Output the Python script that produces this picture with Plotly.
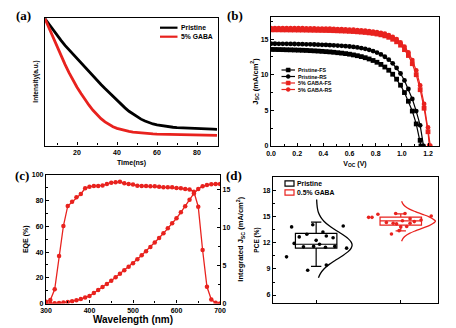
import plotly.graph_objects as go

W, H = 456, 328
BLACK = "#000000"
RED = "#e8221e"
SANS = "Liberation Sans, Arial, sans-serif"
SERIF = "Liberation Serif, Times New Roman, serif"

# ---------------- (a) TRPL decay ----------------
time_ns = [4, 6, 8, 10, 12, 14, 16, 18, 20, 22, 24, 26, 28, 30, 32, 34, 36, 38, 40, 42, 44, 46,
           48, 50, 52, 54, 56, 58, 60, 62, 64, 66, 68, 70, 72, 74, 76, 78, 80, 82, 84, 86, 88, 90]
trpl_pristine = [1.000, 0.955, 0.910, 0.870, 0.830, 0.790, 0.755, 0.720, 0.685, 0.650, 0.615,
                 0.580, 0.548, 0.515, 0.482, 0.450, 0.418, 0.385, 0.355, 0.325, 0.297, 0.270,
                 0.247, 0.226, 0.208, 0.193, 0.180, 0.170, 0.162, 0.156, 0.151, 0.147, 0.144,
                 0.141, 0.139, 0.137, 0.135, 0.134, 0.133, 0.132, 0.131, 0.130, 0.129, 0.128]
trpl_gaba = [1.000, 0.925, 0.850, 0.775, 0.705, 0.640, 0.575, 0.515, 0.460, 0.410, 0.362,
             0.318, 0.278, 0.243, 0.212, 0.186, 0.165, 0.148, 0.135, 0.125, 0.117, 0.111,
             0.106, 0.102, 0.099, 0.096, 0.094, 0.092, 0.090, 0.089, 0.088, 0.087, 0.086,
             0.085, 0.084, 0.083, 0.083, 0.082, 0.082, 0.081, 0.081, 0.080, 0.080, 0.080]
trpl_names = ["Pristine", "5% GABA"]

# ---------------- (b) J-V curves ----------------
voltage_grid = [0.00, 0.03, 0.06, 0.09, 0.12, 0.15, 0.18, 0.21, 0.24, 0.27, 0.30, 0.33, 0.36, 0.39,
                0.42, 0.45, 0.48, 0.51, 0.54, 0.57, 0.60, 0.63, 0.66, 0.69, 0.72, 0.75, 0.78, 0.81,
                0.84, 0.87, 0.90, 0.93, 0.96, 0.99, 1.02, 1.05, 1.08, 1.11, 1.14, 1.17, 1.20]
jv_pristine_fs = [13.55, 13.54, 13.53, 13.52, 13.50, 13.49, 13.47, 13.45, 13.43, 13.41, 13.38,
                  13.35, 13.32, 13.28, 13.24, 13.20, 13.15, 13.09, 13.03, 12.96, 12.88, 12.78,
                  12.67, 12.54, 12.39, 12.21, 12.00, 11.75, 11.45, 11.08, 10.63, 10.07, 9.38,
                  8.53, 7.50, 6.28, 4.90, 3.10, 0.80]
jv_pristine_rs = [14.35, 14.35, 14.34, 14.34, 14.33, 14.32, 14.31, 14.30, 14.29, 14.27, 14.26,
                  14.24, 14.22, 14.20, 14.18, 14.15, 14.12, 14.09, 14.05, 14.01, 13.96, 13.90,
                  13.83, 13.74, 13.63, 13.49, 13.32, 13.11, 12.85, 12.52, 12.11, 11.60, 10.96,
                  10.17, 9.20, 8.00, 6.60, 4.90, 2.90]
jv_gaba_fs = [16.30, 16.30, 16.30, 16.29, 16.29, 16.28, 16.28, 16.27, 16.27, 16.26, 16.25,
              16.24, 16.23, 16.22, 16.21, 16.20, 16.18, 16.16, 16.14, 16.12, 16.09, 16.06,
              16.02, 15.98, 15.93, 15.87, 15.80, 15.71, 15.60, 15.45, 15.25, 14.98, 14.62,
              14.15, 13.52, 12.70, 11.55, 10.00, 7.90, 5.30, 2.00]
jv_gaba_rs = [16.55, 16.55, 16.55, 16.54, 16.54, 16.53, 16.53, 16.52, 16.52, 16.51, 16.50,
              16.49, 16.48, 16.47, 16.46, 16.45, 16.43, 16.41, 16.39, 16.37, 16.34, 16.31,
              16.27, 16.23, 16.18, 16.12, 16.05, 15.97, 15.87, 15.75, 15.57, 15.32, 15.00,
              14.55, 13.95, 13.15, 12.05, 10.60, 8.50, 5.90, 2.60]
voc_values = [1.146, 1.166, 1.210, 1.218]
jv_names = ["Pristine-FS", "Pristine-RS", "5% GABA-FS", "5% GABA-RS"]

# ---------------- (c) EQE ----------------
wavelength_nm = [300, 310, 320, 330, 340, 350, 360, 370, 380, 390, 400, 410, 420, 430, 440, 450,
                 460, 470, 480, 490, 500, 510, 520, 530, 540, 550, 560, 570, 580, 590, 600, 610,
                 620, 630, 640, 650, 660, 670, 680, 690, 700]
eqe_percent = [1.3, 2.7, 11.0, 36.9, 60.3, 75.9, 79.2, 82.6, 85.2, 89.6, 90.9, 91.4, 91.4, 91.9,
               93.0, 94.0, 94.3, 94.8, 93.5, 93.0, 92.7, 91.7, 91.4, 91.4, 91.2, 91.2, 90.9, 90.4,
               90.4, 90.4, 89.9, 89.6, 89.1, 88.8, 87.0, 75.3, 41.6, 13.0, 3.1, 0.5, 0.0]
integrated_jsc = [0.00, 0.00, 0.02, 0.06, 0.12, 0.20, 0.31, 0.44, 0.59, 0.78, 1.00, 1.37, 1.76,
                  2.16, 2.57, 3.00, 3.44, 3.90, 4.36, 4.83, 5.30, 5.82, 6.35, 6.88, 7.43, 8.00,
                  8.60, 9.22, 9.87, 10.53, 11.20, 11.98, 12.78, 13.62, 14.45, 15.05, 15.40, 15.58,
                  15.66, 15.70, 15.70]

# ---------------- (d) PCE statistics ----------------
pce_groups = ["Pristine", "0.5% GABA"]
pce_group_pos = [1, 2]
pristine_pce_x = [0.65, 0.71, 0.74, 0.80, 0.85, 0.89, 0.90, 0.96, 0.97, 1.00, 1.04, 1.08, 1.12,
                  1.11, 1.12, 1.20, 1.22, 1.32, 1.36]
pristine_pce_y = [10.4, 13.85, 11.95, 12.7, 11.55, 13.0, 8.85, 14.1, 11.6, 12.3, 11.85, 13.25,
                  12.8, 11.5, 9.45, 12.6, 11.6, 13.95, 11.4]
gaba_pce_x = [1.62, 1.66, 1.73, 1.83, 1.89, 1.91, 1.95, 1.94, 1.98, 2.00, 2.05, 2.07, 2.11, 2.11,
              2.16, 2.24, 2.36, 2.02]
gaba_pce_y = [14.95, 14.95, 15.3, 14.35, 13.04, 14.27, 14.2, 15.4, 13.42, 13.85, 15.4, 13.9,
              14.27, 14.8, 14.46, 14.65, 15.1, 14.55]
box_q1 = [11.4, 14.05]
box_median = [11.85, 14.55]
box_q3 = [13.1, 14.97]
box_low = [9.3, 13.4]
box_high = [14.4, 15.35]
pristine_fit_y = [8.0, 8.5, 9.0, 9.5, 10.0, 10.5, 11.0, 11.4, 11.75, 12.1, 12.5, 13.0, 13.5, 14.0,
                  14.5, 15.0, 15.5, 16.0, 16.5, 17.0]
pristine_fit_dx = [0.027, 0.052, 0.092, 0.151, 0.227, 0.308, 0.378, 0.414, 0.425, 0.414, 0.378,
                   0.308, 0.227, 0.151, 0.092, 0.052, 0.027, 0.015, 0.009, 0.006]
gaba_fit_y = [12.2, 12.5, 12.8, 13.1, 13.4, 13.7, 14.0, 14.3, 14.5, 14.7, 15.0, 15.3, 15.6, 15.9,
              16.2, 16.5, 16.8]
gaba_fit_dx = [0.010, 0.025, 0.054, 0.103, 0.173, 0.257, 0.336, 0.389, 0.410, 0.389, 0.336, 0.257,
               0.173, 0.103, 0.054, 0.025, 0.010]


def dom_x(a, b):
    return [a / W, b / W]


def dom_y(top, bottom):
    return [1 - bottom / H, 1 - top / H]


def px(x):
    return x / W


def py(y):
    return 1 - y / H


tickfont = dict(family=SANS, size=7, color=BLACK, weight="bold")


def axis(**kw):
    base = dict(showline=True, linecolor=BLACK, linewidth=1.2, mirror=True, ticks="inside",
                ticklen=3, tickwidth=1, tickcolor=BLACK, showgrid=False, zeroline=False,
                tickfont=tickfont,
                minor=dict(ticks="inside", ticklen=2, tickwidth=1, tickcolor=BLACK))
    base.update(kw)
    return base


fig = go.Figure()

# (a)
fig.add_trace(go.Scatter(x=time_ns, y=trpl_pristine, mode="lines", name=trpl_names[0],
                         line=dict(color=BLACK, width=2.8), xaxis="x", yaxis="y"))
fig.add_trace(go.Scatter(x=time_ns, y=trpl_gaba, mode="lines", name=trpl_names[1],
                         line=dict(color=RED, width=2.8), xaxis="x", yaxis="y"))

# (b)
jv_sets = [jv_pristine_fs, jv_pristine_rs, jv_gaba_fs, jv_gaba_rs]
jv_colors = [BLACK, BLACK, RED, RED]
jv_symbols = ["square", "circle", "square", "circle"]
for j, voc, name, col, sym in zip(jv_sets, voc_values, jv_names, jv_colors, jv_symbols):
    fig.add_trace(go.Scatter(x=voltage_grid[:len(j)] + [voc], y=j + [0.0], mode="lines+markers",
                             name=name, line=dict(color=col, width=1.2),
                             marker=dict(symbol=sym, size=4.8, color=col),
                             xaxis="x2", yaxis="y2"))

# (c)
fig.add_trace(go.Scatter(x=wavelength_nm, y=eqe_percent, mode="lines+markers", name="EQE",
                         line=dict(color=RED, width=1.3), marker=dict(size=4.5, color=RED),
                         xaxis="x3", yaxis="y3"))
fig.add_trace(go.Scatter(x=wavelength_nm, y=integrated_jsc, mode="lines+markers",
                         name="Integrated Jsc", line=dict(color=RED, width=1.3),
                         marker=dict(size=4.5, color=RED), xaxis="x3", yaxis="y4"))

# (d)
box_colors = [BLACK, RED]
for i in range(2):
    fig.add_trace(go.Box(x=[pce_group_pos[i]], q1=[box_q1[i]], median=[box_median[i]],
                         q3=[box_q3[i]], lowerfence=[box_low[i]], upperfence=[box_high[i]],
                         width=0.49, whiskerwidth=0.25, name=pce_groups[i],
                         fillcolor="rgba(0,0,0,0)", line=dict(color=box_colors[i], width=1.2),
                         boxpoints=False, xaxis="x4", yaxis="y5"))
fig.add_trace(go.Scatter(x=pristine_pce_x, y=pristine_pce_y, mode="markers",
                         marker=dict(size=3.6, color=BLACK), xaxis="x4", yaxis="y5"))
fig.add_trace(go.Scatter(x=gaba_pce_x, y=gaba_pce_y, mode="markers",
                         marker=dict(size=3.6, color=RED), xaxis="x4", yaxis="y5"))
fig.add_trace(go.Scatter(x=[pce_group_pos[0] + d for d in pristine_fit_dx], y=pristine_fit_y,
                         mode="lines", line=dict(color=BLACK, width=1.3, shape="spline"),
                         xaxis="x4", yaxis="y5"))
fig.add_trace(go.Scatter(x=[pce_group_pos[1] + d for d in gaba_fit_dx], y=gaba_fit_y,
                         mode="lines", line=dict(color=RED, width=1.3, shape="spline"),
                         xaxis="x4", yaxis="y5"))

title_font = dict(family=SANS, size=7, color=BLACK, weight="bold")

fig.update_layout(
    width=W, height=H, margin=dict(l=0, r=0, t=0, b=0), template="none",
    paper_bgcolor="white", plot_bgcolor="white", showlegend=False,
    xaxis=axis(domain=dom_x(45, 218), anchor="y", range=[4, 90.5], tickvals=[20, 40, 60, 80],
               minor=dict(ticks="inside", ticklen=2, tickcolor=BLACK, dtick=10, tick0=0),
               title=dict(text="Time(ns)", font=title_font, standoff=5)),
    yaxis=axis(domain=dom_y(17.5, 145.5), anchor="x", range=[0, 1.01], showticklabels=False,
               ticks="", minor=dict(ticks=""),
               title=dict(text="Intensity(a.u.)", font=dict(family=SANS, size=6.5, color=BLACK,
                                                             weight="bold"), standoff=4)),
    xaxis2=axis(domain=dom_x(271, 439), anchor="y2", range=[0, 1.284], dtick=0.2, tick0=0,
                tickformat=".1f",
                minor=dict(ticks="inside", ticklen=2, tickcolor=BLACK, dtick=0.1, tick0=0),
                title=dict(text="V<sub>OC</sub> (V)", font=title_font, standoff=5)),
    yaxis2=axis(domain=dom_y(17, 146), anchor="x2", range=[0, 18.1], dtick=5, tick0=0,
                minor=dict(ticks="inside", ticklen=2, tickcolor=BLACK, dtick=2.5, tick0=0),
                title=dict(text="J<sub>SC</sub> (mA/cm<sup>2</sup>)",
                           font=dict(family=SANS, size=7.5, color=BLACK, weight="bold"),
                           standoff=1)),
    xaxis3=axis(domain=dom_x(46, 220), anchor="y3", range=[300, 700], dtick=100, tick0=300,
                minor=dict(ticks="inside", ticklen=2, tickcolor=BLACK, dtick=50, tick0=300),
                title=dict(text="Wavelength (nm)",
                           font=dict(family=SANS, size=10, color=BLACK, weight="bold"),
                           standoff=1)),
    yaxis3=axis(domain=dom_y(175, 303.5), anchor="x3", range=[0, 100], dtick=20, tick0=0,
                minor=dict(ticks="inside", ticklen=2, tickcolor=BLACK, dtick=10, tick0=0),
                title=dict(text="EQE (%)", font=title_font, standoff=2)),
    yaxis4=axis(overlaying="y3", anchor="x3", side="right", range=[0, 16.88], dtick=5, tick0=0,
                mirror=False,
                minor=dict(ticks="inside", ticklen=2, tickcolor=BLACK, dtick=2.5, tick0=0),
                title=dict(text="Integrated J<sub>SC</sub> (mA/cm<sup>2</sup>)",
                           font=dict(family=SANS, size=7.5, color=BLACK, weight="bold"),
                           standoff=8)),
    xaxis4=axis(domain=dom_x(273, 438), anchor="y5", type="linear", range=[0.49, 2.44],
                tickvals=[1, 2], showticklabels=False, minor=dict(ticks="")),
    yaxis5=axis(domain=dom_y(177, 303), anchor="x4", range=[5.08, 19.6], dtick=3, tick0=0,
                minor=dict(ticks="inside", ticklen=2, tickcolor=BLACK, dtick=1.5, tick0=0),
                title=dict(text="PCE (%)", font=dict(family=SANS, size=6.5, color=BLACK,
                                                     weight="bold"), standoff=2)),
)

annotations = []
shapes = []

# panel labels
for lab, x, y in [("(a)", 23, 15), ("(b)", 235, 15), ("(c)", 22, 175), ("(d)", 234, 175)]:
    annotations.append(dict(text=lab, x=px(x), y=py(y), xref="paper", yref="paper",
                            showarrow=False, xanchor="center", yanchor="middle",
                            font=dict(family=SERIF, size=13, color=BLACK, weight="bold")))

leg_font = dict(family=SANS, size=6.8, color=BLACK, weight="bold")
# legend (a)
for name, col, y in [(trpl_names[0], BLACK, 27.7), (trpl_names[1], RED, 36.7)]:
    shapes.append(dict(type="line", xref="paper", yref="paper", x0=px(160), x1=px(177.5),
                       y0=py(y), y1=py(y), line=dict(color=col, width=2.2)))
    annotations.append(dict(text=name, x=px(178.5), y=py(y), xref="paper", yref="paper",
                            showarrow=False, xanchor="left", yanchor="middle", font=leg_font))

# legend (b)
legb_font = dict(family=SANS, size=5.3, color=BLACK, weight="bold")
for name, col, sym, y in zip(jv_names, jv_colors, jv_symbols, [70, 76.5, 83, 89.5]):
    shapes.append(dict(type="line", xref="paper", yref="paper", x0=px(281.5), x1=px(295),
                       y0=py(y), y1=py(y), line=dict(color=col, width=1.2)))
    shapes.append(dict(type="rect" if sym == "square" else "circle", xref="paper",
                       yref="paper", x0=px(286.2), x1=px(290.2), y0=py(y + 2), y1=py(y - 2),
                       fillcolor=col, line=dict(color=col, width=0.5)))
    annotations.append(dict(text=name, x=px(295.8), y=py(y), xref="paper", yref="paper",
                            showarrow=False, xanchor="left", yanchor="middle", font=legb_font))

# legend (d)
for name, col, y in [(pce_groups[0], BLACK, 183.5), (pce_groups[1], RED, 192.5)]:
    shapes.append(dict(type="rect", xref="paper", yref="paper", x0=px(285), x1=px(294),
                       y0=py(y + 2.6), y1=py(y - 2.6), line=dict(color=col, width=1.2)))
    annotations.append(dict(text=name, x=px(295), y=py(y), xref="paper", yref="paper",
                            showarrow=False, xanchor="left", yanchor="middle", font=leg_font))

fig.update_layout(annotations=annotations, shapes=shapes)
fig.write_html("out.html", config={"displayModeBar": False},
               post_script="document.body.style.margin='0';document.body.style.overflow='hidden';")
